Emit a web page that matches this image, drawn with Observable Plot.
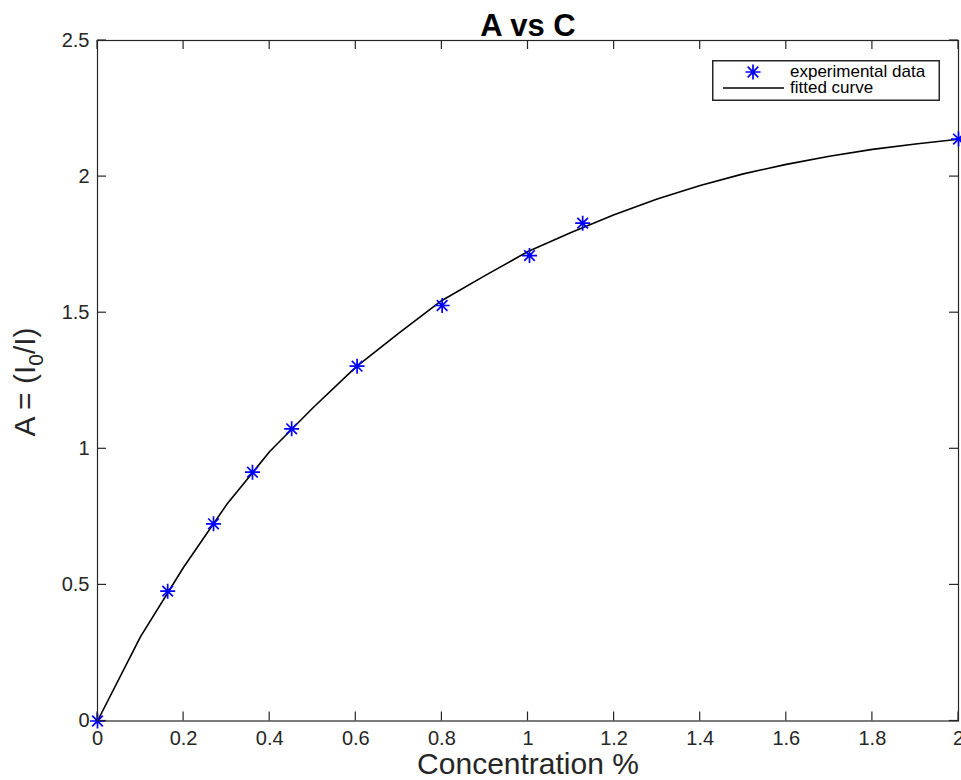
<!DOCTYPE html>
<html>
<head>
<meta charset="utf-8">
<script src="https://cdn.jsdelivr.net/npm/d3@7"></script>
<script src="https://cdn.jsdelivr.net/npm/@observablehq/plot@0.6"></script>
<style>
  html, body { margin: 0; padding: 0; background: white; overflow: hidden; }
  #wrap { position: relative; width: 961px; height: 780px; }
  #legend { position: absolute; left: 712px; top: 60px; }
</style>
</head>
<body>
<div id="wrap"></div>
<script>
// ---- data ----
const concentration = [0, 0.163, 0.2695, 0.360, 0.451, 0.603, 0.8006, 1.0035, 1.127, 2.0];
const absorbance    = [0, 0.477, 0.7245, 0.914, 1.0735, 1.3035, 1.5265, 1.710, 1.829, 2.138];

const fitC = [0, 0.1, 0.2, 0.3, 0.4, 0.5, 0.6, 0.7, 0.8, 0.9, 1.0, 1.1, 1.2, 1.3, 1.4, 1.5, 1.6, 1.7, 1.8, 1.9, 2.0];
const fitA = [0, 0.31, 0.565, 0.795, 0.99, 1.15, 1.30, 1.425, 1.545, 1.636, 1.725, 1.795, 1.86, 1.918, 1.967, 2.01, 2.045, 2.075, 2.10, 2.12, 2.137];

const xTicks = [0, 0.2, 0.4, 0.6, 0.8, 1, 1.2, 1.4, 1.6, 1.8, 2];
const yTicks = [0, 0.5, 1, 1.5, 2, 2.5];
const xTickLabels = ["0", "0.2", "0.4", "0.6", "0.8", "1", "1.2", "1.4", "1.6", "1.8", "2"];
const yTickLabels = ["0", "0.5", "1", "1.5", "2", "2.5"];

const titleText = "A vs C";
const xLabelText = "Concentration %";
const seriesNames = ["experimental data", "fitted curve"];

const points = concentration.map((c, i) => ({c, a: absorbance[i]}));
const curve = fitC.map((c, i) => ({c, a: fitA[i]}));

// MATLAB-like asterisk marker (+ and x combined)
const starSymbol = {
  draw(context, size) {
    const r = Math.sqrt(size / Math.PI);
    const d = r * Math.SQRT1_2;
    context.moveTo(0, -r); context.lineTo(0, r);
    context.moveTo(-r, 0); context.lineTo(r, 0);
    context.moveTo(-d, -d); context.lineTo(d, d);
    context.moveTo(-d, d); context.lineTo(d, -d);
  }
};

const FONT = "'Liberation Sans', Arial, Helvetica, sans-serif";
const AX = "#262626";

const chart = Plot.plot({
  width: 961,
  height: 780,
  marginLeft: 97,
  marginRight: 3,
  marginTop: 40,
  marginBottom: 59.5,
  x: {domain: [0, 2]},
  y: {domain: [0, 2.5]},
  style: {fontFamily: FONT, fontSize: "20px", color: AX, background: "white"},
  marks: [
    // tick labels
    Plot.axisX({ticks: xTicks, anchor: "bottom", tickSize: 0, tickPadding: 10, fill: AX, label: null,
      tickFormat: d => xTickLabels[xTicks.indexOf(d)], fontSize: 20}),
    Plot.axisY({ticks: yTicks, anchor: "left", tickSize: 0, tickPadding: 8, fill: AX, label: null,
      tickFormat: d => yTickLabels[yTicks.indexOf(d)], fontSize: 20}),
    Plot.frame({stroke: AX, strokeWidth: 1.2}),
    // fitted curve
    Plot.line(curve, {x: "c", y: "a", stroke: "black", strokeWidth: 1.6, curve: "linear"}),
    // experimental data
    Plot.dot(points, {x: "c", y: "a", r: 7.5, symbol: starSymbol, stroke: "#0000ff", fill: "none", strokeWidth: 1.7}),
    // title and x label
    Plot.text([titleText], {frameAnchor: "top", dy: -27, lineAnchor: "top", fontSize: 31, fontWeight: "bold", fill: "black", text: d => d}),
    Plot.text([xLabelText], {frameAnchor: "bottom", dy: 32, lineAnchor: "top", fontSize: 30, fill: AX, text: d => d})
  ]
});

document.getElementById("wrap").appendChild(chart);

const svg = d3.select(chart);

// inward ticks on all four sides, placed with the chart's own scales
const sx = chart.scale("x"), sy = chart.scale("y");
const x0 = sx.apply(sx.domain[0]), x1 = sx.apply(sx.domain[1]);
const y0 = sy.apply(sy.domain[0]), y1 = sy.apply(sy.domain[1]);
const TL = 9;
const tg = svg.append("g").attr("stroke", AX).attr("stroke-width", 1.2).attr("fill", "none");
xTicks.forEach(t => {
  const px = sx.apply(t);
  tg.append("line").attr("x1", px).attr("x2", px).attr("y1", y0).attr("y2", y0 - TL);
  tg.append("line").attr("x1", px).attr("x2", px).attr("y1", y1).attr("y2", y1 + TL);
});
yTicks.forEach(t => {
  const py = sy.apply(t);
  tg.append("line").attr("x1", x0).attr("x2", x0 + TL).attr("y1", py).attr("y2", py);
  tg.append("line").attr("x1", x1).attr("x2", x1 - TL).attr("y1", py).attr("y2", py);
});

// y label with subscript
const yl = svg.append("text")
  .attr("transform", "translate(35,382) rotate(-90)")
  .attr("text-anchor", "middle")
  .attr("font-family", FONT)
  .attr("font-size", 30)
  .attr("fill", AX);
yl.append("tspan").text("A = (I");
yl.append("tspan").attr("font-size", 21).attr("dy", 8).text("0");
yl.append("tspan").attr("dy", -8).text("/I)");

// legend box
const lg = d3.select("#wrap").append("svg")
  .attr("id", "legend")
  .attr("width", 228).attr("height", 41);
lg.append("rect").attr("x", 0.75).attr("y", 0.75).attr("width", 226.5).attr("height", 39.5)
  .attr("fill", "white").attr("stroke", AX).attr("stroke-width", 1.5);
const sr = 7.5, sd = sr * Math.SQRT1_2;
lg.append("path")
  .attr("d", `M41,${12-sr}V${12+sr}M${41-sr},12H${41+sr}M${41-sd},${12-sd}L${41+sd},${12+sd}M${41-sd},${12+sd}L${41+sd},${12-sd}`)
  .attr("stroke", "#0000ff").attr("stroke-width", 1.7).attr("fill", "none");
lg.append("line").attr("x1", 11).attr("x2", 72).attr("y1", 28).attr("y2", 28)
  .attr("stroke", "black").attr("stroke-width", 1.6);
lg.selectAll("text.lab").data(seriesNames).join("text")
  .attr("class", "lab")
  .attr("x", 78).attr("y", (d, i) => 17 + i * 15.5)
  .attr("font-family", FONT).attr("font-size", 17).attr("fill", "black")
  .text(d => d);
</script>
</body>
</html>
